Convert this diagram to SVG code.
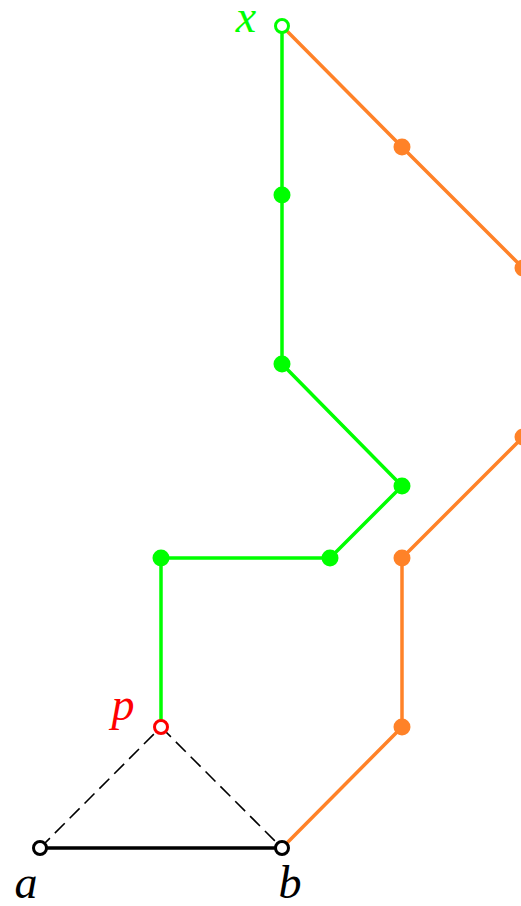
<svg xmlns="http://www.w3.org/2000/svg" width="521" height="906" viewBox="0 0 521 906">
<style>
.g{stroke:#00ff00;stroke-width:3.5;fill:none;stroke-linejoin:round}
.o{stroke:#ff8228;stroke-width:3.5;fill:none;stroke-linejoin:round}
.k{stroke:#000;stroke-width:3.5;fill:none}
.d{stroke:#000;stroke-width:1.6;fill:none;stroke-dasharray:14,7}
.gd{fill:#00ff00}
.od{fill:#ff8228}
.lbl{font-family:"Liberation Serif","DejaVu Serif",serif;font-style:italic;font-size:46px;text-anchor:middle}
</style>
<g id="connectors">
<path class="o" d="M282,26 L402,147 L523,268 L523,437 L402,558 L402,727 L282,848"/>
<path class="g" d="M282,26 L282,195 L282,364 L402,486 L330,558 L161,558 L161,727"/>
<line class="k" x1="40" y1="848" x2="282" y2="848"/>
<line class="d" x1="40" y1="848" x2="161" y2="727"/>
<line class="d" x1="161" y1="727" x2="282" y2="848"/>
</g>
<g id="orange-dots" class="od">
<circle cx="402" cy="147" r="8.5"/>
<circle cx="523" cy="268" r="8.5"/>
<circle cx="523" cy="437" r="8.5"/>
<circle cx="402" cy="558" r="8.5"/>
<circle cx="402" cy="727" r="8.5"/>
</g>
<g id="green-dots" class="gd">
<circle cx="282" cy="195" r="8.5"/>
<circle cx="282" cy="364" r="8.5"/>
<circle cx="402" cy="486" r="8.5"/>
<circle cx="330" cy="558" r="8.5"/>
<circle cx="161" cy="558" r="8.5"/>
</g>
<g id="node-x">
<circle cx="282" cy="26" r="6.5" fill="#fff" stroke="#00ff00" stroke-width="3"/>
<text class="lbl" x="246" y="32" fill="#00ff00">x</text>
</g>
<g id="node-p">
<circle cx="161" cy="727" r="6.5" fill="#fff" stroke="#ff0000" stroke-width="3"/>
<text class="lbl" x="123" y="720" fill="#ff0000">p</text>
</g>
<g id="node-a">
<circle cx="40" cy="848" r="6.5" fill="#fff" stroke="#000" stroke-width="3"/>
<text class="lbl" x="26" y="898" fill="#000">a</text>
</g>
<g id="node-b">
<circle cx="282" cy="848" r="6.5" fill="#fff" stroke="#000" stroke-width="3"/>
<text class="lbl" x="290" y="898" fill="#000">b</text>
</g>
</svg>
